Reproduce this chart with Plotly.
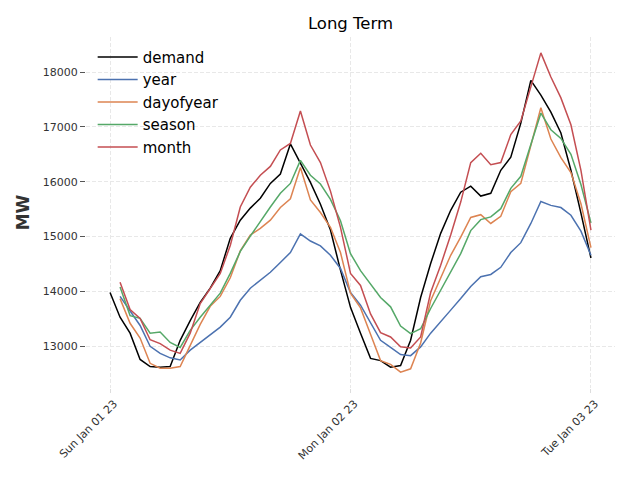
import pandas as pd
import plotly.graph_objects as go

start = "2023-01-01 00:00"
demand = [13980, 13530, 13240, 12760, 12630, 12620, 12630, 13110, 13470, 13800,
          14060, 14380, 14970, 15300, 15520, 15700, 15970, 16140, 16690, 16340,
          15990, 15590, 15120, 14390, 13710, 13240, 12780, 12740, 12620, 12650,
          13110, 13890, 14510, 15060, 15480, 15810, 15920, 15740, 15790, 16210,
          16450, 17070, 17850, 17580, 17270, 16890, 16210, 15430, 14610]
year = [13910, 13640, 13380, 13000, 12870, 12790, 12750, 12930, 13070, 13220,
        13350, 13530, 13840, 14060, 14200, 14350, 14530, 14710, 15050, 14920,
        14830, 14660, 14420, 13980, 13750, 13430, 13110, 12980, 12850, 12830,
        12990, 13240, 13460, 13660, 13870, 14090, 14270, 14310, 14440, 14710,
        14890, 15240, 15640, 15570, 15530, 15390, 15100, 14660]
dayofyear = [13870, 13420, 13150, 12690, 12600, 12600, 12630, 13020, 13400, 13730,
             13910, 14250, 14740, 15030, 15150, 15300, 15530, 15690, 16260, 15670,
             15440, 15170, 14710, 13970, 13700, 13220, 12740, 12670, 12530, 12590,
             13060, 13830, 14230, 14660, 14990, 15350, 15400, 15240, 15370, 15820,
             15970, 16660, 17350, 16780, 16440, 16170, 15600, 14800]
season = [14080, 13560, 13510, 13240, 13260, 13070, 12980, 13290, 13530, 13750,
          13970, 14330, 14730, 15010, 15280, 15540, 15790, 15970, 16390, 16120,
          15960, 15680, 15290, 14690, 14380, 14140, 13890, 13720, 13370, 13230,
          13320, 13690, 14030, 14360, 14690, 15110, 15310, 15360, 15510, 15880,
          16100, 16680, 17250, 16950, 16790, 16500, 15950, 15250]
month = [14170, 13670, 13510, 13120, 13050, 12930, 12870, 13240, 13780, 14060,
         14330, 14840, 15540, 15900, 16120, 16280, 16580, 16700, 17290, 16670,
         16350, 15830, 15170, 14330, 14110, 13590, 13250, 13170, 12990, 12970,
         13170, 13980, 14480, 15030, 15630, 16350, 16520, 16310, 16350, 16860,
         17110, 17730, 18350, 17910, 17530, 17040, 16210, 15120]
tick_dates = ["2023-01-01", "2023-01-02", "2023-01-03"]
y_ticks = [13000, 14000, 15000, 16000, 17000, 18000]

t_demand = pd.date_range(start, periods=len(demand), freq="h")
t_fc = t_demand[1:]
ticks = pd.to_datetime(tick_dates)
tick_text = [d.strftime("%a %b %d %y") for d in ticks]

series = [
    ("demand", t_demand, demand, "#000000"),
    ("year", t_fc, year, "#4C72B0"),
    ("dayofyear", t_fc, dayofyear, "#DD8452"),
    ("season", t_fc, season, "#55A868"),
    ("month", t_fc, month, "#C44E52"),
]

fig = go.Figure()
for name, xs, ys, col in series:
    fig.add_trace(go.Scatter(x=xs, y=ys, mode="lines", name=name,
                             line=dict(color=col, width=1.5), legendgroup=name))

x0 = t_demand[0] - pd.Timedelta(hours=2.4)
x1 = t_demand[-1] + pd.Timedelta(hours=2.4)

# page body has an 8px margin; offsets below compensate for it
fig.update_layout(
    width=640, height=480,
    paper_bgcolor="white", plot_bgcolor="white",
    margin=dict(l=78, r=33, t=29, b=100, autoexpand=False),
    font=dict(family="DejaVu Sans", color="#333333"),
    title=dict(text="Long Term", x=0.5, xref="paper", xanchor="center",
               y=1 - 15 / 480, yref="container", yanchor="middle",
               font=dict(size=16.5, color="black", family="DejaVu Sans")),
    showlegend=True,
    legend=dict(x=0.0126, y=0.989, xanchor="left", yanchor="top",
                bgcolor="rgba(0,0,0,0)", font=dict(size=15, color="black"),
                tracegroupgap=0, itemwidth=40),
)
fig.update_xaxes(
    range=[x0, x1], tickvals=ticks, ticktext=tick_text, tickangle=-45,
    automargin=False, ticklabelshift=4,
    showgrid=True, gridcolor="#E8E8E8", griddash="4px,2px", gridwidth=1,
    zeroline=False, showline=False, ticks="outside", ticklen=4,
    tickcolor="#DDDDDD", tickfont=dict(size=11, color="#333333"),
)
fig.update_yaxes(
    range=[12240, 18640], tickvals=y_ticks, tickformat="d",
    automargin=False,
    showgrid=True, gridcolor="#E8E8E8", griddash="4px,2px", gridwidth=1,
    zeroline=False, showline=False, ticks="outside", ticklen=5,
    tickcolor="#555555", tickfont=dict(size=11, color="#333333"),
    title=dict(text="<b>MW</b>", font=dict(size=17, color="#333333"), standoff=8),
)
fig.write_html("out.html")
